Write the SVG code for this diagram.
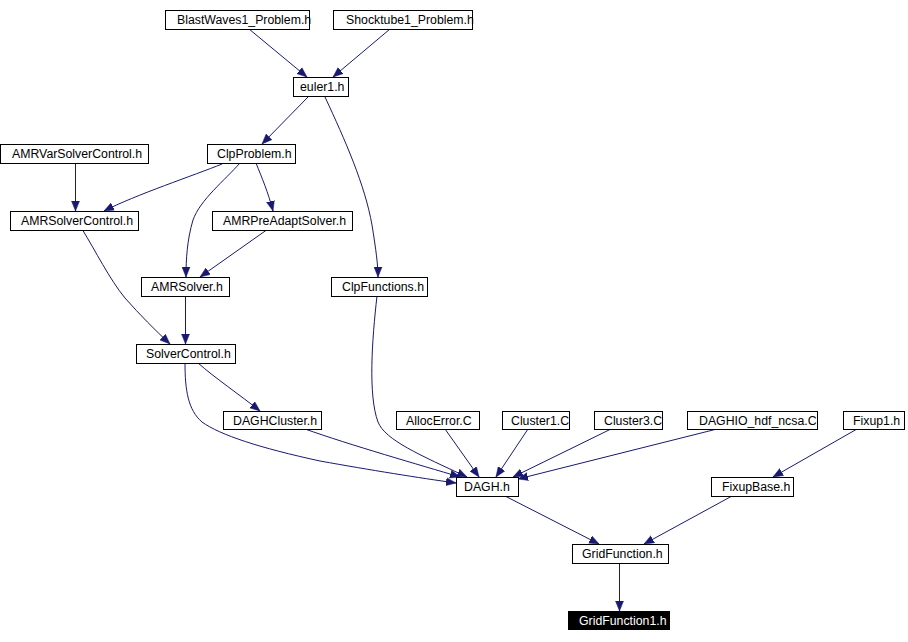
<svg xmlns="http://www.w3.org/2000/svg" width="908" height="642" viewBox="0 0 908 642">
<style>
.n rect{fill:#fff;stroke:#000;stroke-width:1}
.n text{font-family:"Liberation Sans",Arial,sans-serif;font-size:12.3px;fill:#000}
.hl rect{fill:#000}
.hl text{fill:#fff}
.e path{fill:none;stroke:#191970;stroke-width:1;marker-end:url(#ah)}
</style>
<defs>
<marker id="ah" markerUnits="userSpaceOnUse" markerWidth="11" markerHeight="9" refX="10" refY="4.5" orient="auto">
<path d="M0,0.5 L10,4.5 L0,8.5 z" fill="#191970" stroke="#191970" stroke-width="0.5"/>
</marker>
</defs>
<rect width="908" height="642" fill="#fff"/>
<g class="e" id="edges">
<path d="M249,29 L307,77"/>
<path d="M390,29 L333,77"/>
<path d="M308,97 L262,144"/>
<path d="M325,97 C345,140 365,185 372,225 C376,250 378,265 378,277"/>
<path d="M75.5,163 L75.5,211"/>
<path d="M222,164 C195,175 135,195 104,211"/>
<path d="M240,163 C225,180 200,200 193,220 C187,240 186,260 186,277"/>
<path d="M256,163 C262,178 268,192 273,211"/>
<path d="M268,229 L200,277"/>
<path d="M82,229 C95,250 110,280 125,298 C140,315 155,330 170,344"/>
<path d="M185.5,296 L185.5,344"/>
<path d="M198,363 C215,378 240,395 260,411"/>
<path d="M185,363 C185,390 188,410 202,422 C220,435 260,448 320,461 C370,470 420,478 456,483"/>
<path d="M305,429 C350,445 420,465 460,477"/>
<path d="M377,296 C372,340 368,395 378,422 C385,440 420,455 467,477"/>
<path d="M445,429 L479,477"/>
<path d="M528,429 L496,477"/>
<path d="M611,429 L513,477"/>
<path d="M717,429 L518,479"/>
<path d="M857,429 L773,477"/>
<path d="M505,496 L599,544"/>
<path d="M732,496 L644,544"/>
<path d="M619.5,563 L619.5,611"/>
</g>
<g class="n" id="BlastWaves1_Problem"><rect x="165.5" y="10.5" width="144" height="19"/><text x="177" y="24">BlastWaves1_Problem.h</text></g>
<g class="n" id="Shocktube1_Problem"><rect x="333.5" y="10.5" width="139" height="19"/><text x="346" y="24">Shocktube1_Problem.h</text></g>
<g class="n" id="euler1"><rect x="293.5" y="77.5" width="55" height="19"/><text x="300" y="91">euler1.h</text></g>
<g class="n" id="AMRVarSolverControl"><rect x="0.5" y="144.5" width="148" height="19"/><text x="12" y="158">AMRVarSolverControl.h</text></g>
<g class="n" id="ClpProblem"><rect x="207.5" y="144.5" width="88" height="19"/><text x="217" y="158">ClpProblem.h</text></g>
<g class="n" id="AMRSolverControl"><rect x="10.5" y="211.5" width="128" height="19"/><text x="21" y="225">AMRSolverControl.h</text></g>
<g class="n" id="AMRPreAdaptSolver"><rect x="212.5" y="211.5" width="140" height="19"/><text x="223" y="225">AMRPreAdaptSolver.h</text></g>
<g class="n" id="AMRSolver"><rect x="141.5" y="277.5" width="88" height="19"/><text x="151" y="291">AMRSolver.h</text></g>
<g class="n" id="ClpFunctions"><rect x="331.5" y="277.5" width="96" height="19"/><text x="342" y="291">ClpFunctions.h</text></g>
<g class="n" id="SolverControl"><rect x="136.5" y="344.5" width="99" height="19"/><text x="146" y="358">SolverControl.h</text></g>
<g class="n" id="DAGHCluster"><rect x="223.5" y="411.5" width="98" height="18"/><text x="233" y="425">DAGHCluster.h</text></g>
<g class="n" id="AllocError"><rect x="396.5" y="411.5" width="83" height="18"/><text x="406" y="425">AllocError.C</text></g>
<g class="n" id="Cluster1"><rect x="502.5" y="411.5" width="67" height="18"/><text x="511" y="425">Cluster1.C</text></g>
<g class="n" id="Cluster3"><rect x="594.5" y="411.5" width="68" height="18"/><text x="604" y="425">Cluster3.C</text></g>
<g class="n" id="DAGHIO_hdf_ncsa"><rect x="687.5" y="411.5" width="130" height="18"/><text x="699" y="425">DAGHIO_hdf_ncsa.C</text></g>
<g class="n" id="Fixup1"><rect x="843.5" y="411.5" width="61" height="18"/><text x="853" y="425">Fixup1.h</text></g>
<g class="n" id="DAGH"><rect x="456.5" y="477.5" width="62" height="19"/><text x="464" y="491">DAGH.h</text></g>
<g class="n" id="FixupBase"><rect x="711.5" y="477.5" width="82" height="19"/><text x="722" y="491">FixupBase.h</text></g>
<g class="n" id="GridFunction"><rect x="572.5" y="544.5" width="96" height="19"/><text x="582" y="558">GridFunction.h</text></g>
<g class="n hl" id="GridFunction1"><rect x="568.5" y="611.5" width="101" height="18"/><text x="579" y="625">GridFunction1.h</text></g>
</svg>
